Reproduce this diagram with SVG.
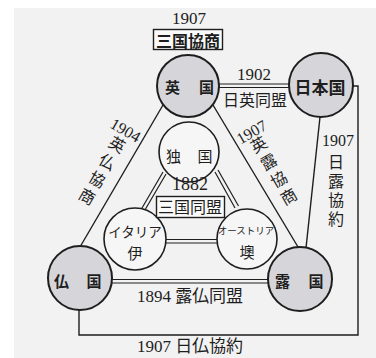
<svg xmlns="http://www.w3.org/2000/svg" width="376" height="358" viewBox="0 0 376 358">
<style>
.bg{fill:#f2f2f2}
.pw{fill:#d6d6da;stroke:#1e1e1e;stroke-width:2}
.mn{fill:#f6f6f6;stroke:#1e1e1e;stroke-width:1.6}
.ln{stroke:#1e1e1e;stroke-width:1.4;fill:none}
.dl{stroke:#1e1e1e;stroke-width:1.2;fill:none}
.box{fill:#fafafa;stroke:#1e1e1e;stroke-width:1.4}
text{fill:#1e1e1e;text-anchor:middle;dominant-baseline:central}
.num{font-family:"Liberation Serif",serif;font-size:17px}
.lab{font-family:"Liberation Serif","Noto Sans CJK JP",serif;font-size:16px}
.bd{font-family:"Noto Sans CJK JP",sans-serif;font-weight:700;font-size:16px}
.nm{font-family:"Noto Sans CJK JP",sans-serif;font-size:15px}
</style>
<rect class="bg" x="14" y="8" width="362" height="350"/>
<g id="connectors">
  <g id="e-j">
    <line class="dl" x1="219" y1="84" x2="289" y2="84"/>
    <line class="dl" x1="219" y1="87.5" x2="289" y2="87.5"/>
  </g>
  <g id="f-r">
    <line class="dl" x1="112" y1="279.5" x2="268" y2="279.5"/>
    <line class="dl" x1="112" y1="283" x2="268" y2="283"/>
  </g>
  <g id="i-a">
    <line class="dl" x1="166" y1="239.5" x2="217" y2="239.5"/>
    <line class="dl" x1="166" y1="243" x2="217" y2="243"/>
  </g>
  <g id="g-i">
    <line class="dl" x1="163" y1="172" x2="142" y2="208"/>
    <line class="dl" x1="166" y1="174" x2="145.5" y2="209"/>
  </g>
  <g id="g-a">
    <line class="dl" x1="215" y1="172" x2="235" y2="208"/>
    <line class="dl" x1="218" y1="170" x2="238.5" y2="206"/>
  </g>
  <line id="e-f" class="ln" x1="163" y1="105" x2="80" y2="247"/>
  <line id="e-r" class="ln" x1="213" y1="105" x2="298" y2="247"/>
  <line id="j-r" class="ln" x1="320" y1="117" x2="306" y2="248"/>
  <polyline id="j-f" class="ln" points="353,86 358,86 358,335 79,335 79,310"/>
</g>
<g id="title">
  <text class="num" x="189" y="18">1907</text>
  <rect class="box" x="153.5" y="29.5" width="69" height="20"/>
  <text class="bd" x="188" y="39.5">三国協商</text>
</g>
<g id="britain">
  <circle class="pw" cx="188" cy="86" r="31"/>
  <text class="bd" x="172.5" y="86" style="font-size:15px">英</text>
  <text class="bd" x="206.5" y="86" style="font-size:15px">国</text>
</g>
<g id="japan">
  <circle class="pw" cx="321" cy="85" r="32"/>
  <text class="bd" x="320" y="86" style="font-size:17px">日本国</text>
</g>
<g id="france">
  <circle class="pw" cx="80" cy="278" r="32"/>
  <text class="bd" x="61.5" y="280" style="font-size:15px">仏</text>
  <text class="bd" x="94" y="280" style="font-size:15px">国</text>
</g>
<g id="russia">
  <circle class="pw" cx="300" cy="279" r="32"/>
  <text class="bd" x="282.5" y="280" style="font-size:15px">露</text>
  <text class="bd" x="316" y="280" style="font-size:15px">国</text>
</g>
<g id="germany">
  <circle class="mn" cx="189" cy="152" r="30"/>
  <text class="nm" x="173.5" y="155">独</text>
  <text class="nm" x="205" y="155">国</text>
</g>
<g id="italy">
  <circle class="mn" cx="135" cy="239" r="31"/>
  <text class="nm" x="135" y="230.5" style="font-size:13.5px">イタリア</text>
  <text class="nm" x="135" y="252">伊</text>
</g>
<g id="austria">
  <circle class="mn" cx="247" cy="239" r="30"/>
  <text class="nm" x="246" y="230" style="font-size:9.5px">オーストリア</text>
  <text class="nm" x="247" y="251">墺</text>
</g>
<g id="triple-alliance">
  <text class="num" x="190" y="184" style="font-size:18px">1882</text>
  <rect class="box" x="156.5" y="196.5" width="68" height="21"/>
  <text class="lab" x="190" y="207">三国同盟</text>
</g>
<g id="labels">
  <text class="num" x="254" y="74">1902</text>
  <text class="lab" x="255" y="100">日英同盟</text>
  <g transform="translate(117,145) rotate(30)">
    <text class="num" x="0" y="-17" style="font-size:16px">1904</text>
    <text class="lab" x="0" y="0">英</text>
    <text class="lab" x="0" y="20">仏</text>
    <text class="lab" x="0" y="40">協</text>
    <text class="lab" x="0" y="60">商</text>
  </g>
  <g transform="translate(259,145) rotate(-30)">
    <text class="num" x="0" y="-15" style="font-size:16px">1907</text>
    <text class="lab" x="0" y="0">英</text>
    <text class="lab" x="0" y="20">露</text>
    <text class="lab" x="0" y="40">協</text>
    <text class="lab" x="0" y="60">商</text>
  </g>
  <g>
    <text class="num" x="338" y="140" style="font-size:16px">1907</text>
    <text class="lab" x="336" y="162">日</text>
    <text class="lab" x="336" y="181">露</text>
    <text class="lab" x="336" y="200">協</text>
    <text class="lab" x="336" y="219">約</text>
  </g>
  <text class="lab" x="190" y="296" style="font-size:17px">1894 露仏同盟</text>
  <text class="lab" x="190" y="346" style="font-size:17px">1907 日仏協約</text>
</g>
</svg>
